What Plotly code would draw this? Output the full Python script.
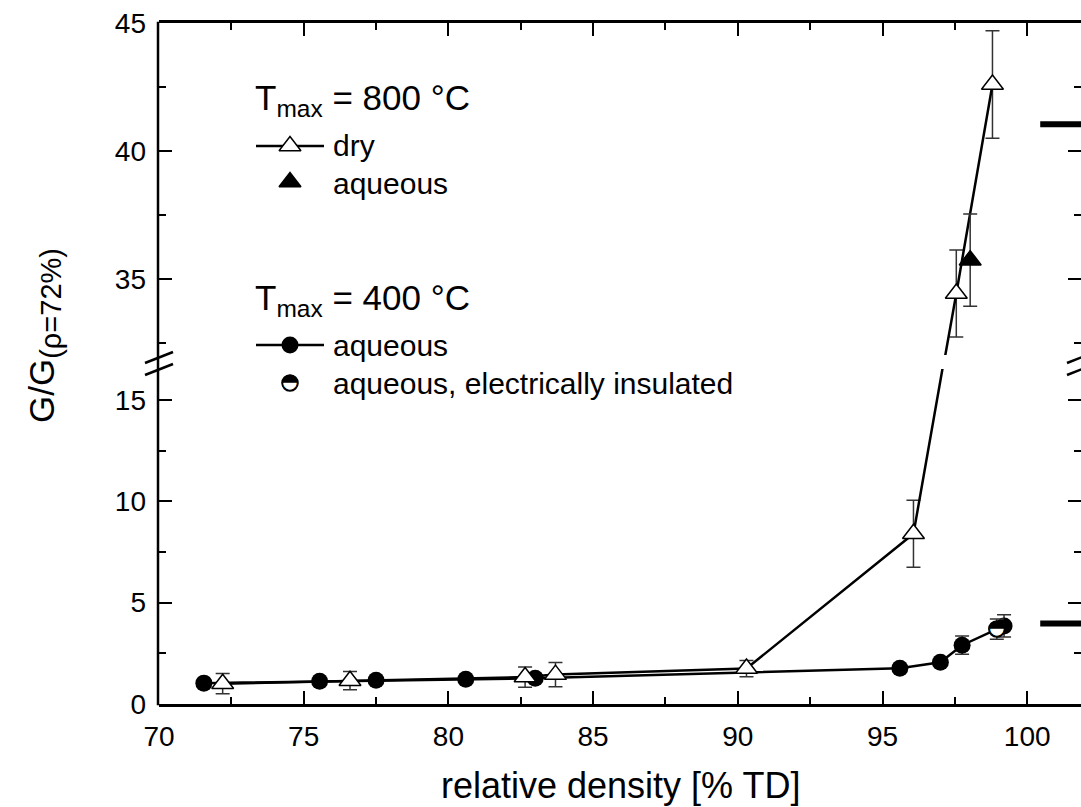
import plotly.graph_objects as go

# ---------------- data ----------------
dry_x = [72.2, 76.6, 82.65, 83.7, 90.3, 96.07, 97.55, 98.8]
dry_y = [1.0, 1.15, 1.33, 1.45, 1.75, 8.4, 34.45, 42.6]
dry_err = [0.5, 0.45, 0.5, 0.6, 0.4, 1.65, 1.7, 2.1]

aq800_x = [98.03]
aq800_y = [35.75]
aq800_err = [1.8]

aq400_x = [71.55, 75.55, 77.5, 80.6, 83.0, 95.6, 97.0, 97.75, 99.2]
aq400_y = [1.03, 1.12, 1.17, 1.22, 1.27, 1.76, 2.06, 2.9, 3.85]
aq400_err = [0, 0, 0, 0, 0, 0, 0, 0.45, 0.55]

ins_x = [98.95]
ins_y = [3.7]
ins_err = [0.5]

ref_x = [100.45, 103]
ref_levels = [41.05, 3.97]

x_ticks = [70, 75, 80, 85, 90, 95, 100]
low_ticks = [0, 5, 10, 15]
up_ticks = [35, 40, 45]

# ---------------- layout geometry ----------------
W, H = 1081, 807
ML, MR, MT, MB = 159, 0, 23, 103
PW, PH = W - ML - MR, H - MT - MB

X_RANGE = [70, 70 + PW / 28.94]
LOW_RANGE = [0, 16.53]
UP_RANGE = [32.05, 45]
LOW_DOM = [0, (MT + PH - 369) / PH]
UP_DOM = [(MT + PH - 355) / PH, 1]

FONT = "Liberation Sans, Arial, sans-serif"
BLACK = "#000000"


def frac(v):
    """paper fraction of a value on the broken y axis"""
    if v <= LOW_RANGE[1]:
        return LOW_DOM[0] + (v - LOW_RANGE[0]) / (LOW_RANGE[1] - LOW_RANGE[0]) * (LOW_DOM[1] - LOW_DOM[0])
    return UP_DOM[0] + (v - UP_RANGE[0]) / (UP_RANGE[1] - UP_RANGE[0]) * (UP_DOM[1] - UP_DOM[0])


def on_axis(vals, rng, dom):
    return [rng[0] + (frac(v) - dom[0]) / (dom[1] - dom[0]) * (rng[1] - rng[0]) for v in vals]


def fx(px):
    return (px - ML) / PW


def fy(py):
    return (MT + PH - py) / PH


fig = go.Figure()

segments = [("x", "y", LOW_RANGE, LOW_DOM), ("x2", "y2", UP_RANGE, UP_DOM)]
ERR = dict(type="data", color="#333333", thickness=1.5, width=7)

for xa, ya, rng, dom in segments:
    # T = 400 C aqueous (filled circles)
    fig.add_trace(go.Scatter(
        x=aq400_x, y=on_axis(aq400_y, rng, dom), xaxis=xa, yaxis=ya,
        mode="lines+markers", showlegend=False,
        line=dict(color=BLACK, width=2.5),
        marker=dict(symbol="circle", size=17, color=BLACK),
        error_y=dict(ERR, array=aq400_err),
    ))
    # T = 800 C dry (open triangles)
    fig.add_trace(go.Scatter(
        x=dry_x, y=on_axis(dry_y, rng, dom), xaxis=xa, yaxis=ya,
        mode="lines+markers", showlegend=False,
        line=dict(color=BLACK, width=2.5),
        marker=dict(symbol="triangle-up", size=19, color="white", line=dict(color=BLACK, width=1.5)),
        error_y=dict(ERR, array=dry_err),
    ))
    # T = 800 C aqueous (filled triangle)
    fig.add_trace(go.Scatter(
        x=aq800_x, y=on_axis(aq800_y, rng, dom), xaxis=xa, yaxis=ya,
        mode="markers", showlegend=False,
        marker=dict(symbol="triangle-up", size=19, color=BLACK, line=dict(color=BLACK, width=1.5)),
        error_y=dict(ERR, array=aq800_err),
    ))
    # aqueous, electrically insulated (half-filled circle)
    fig.add_trace(go.Scatter(
        x=ins_x, y=on_axis(ins_y, rng, dom), xaxis=xa, yaxis=ya,
        mode="markers", showlegend=False,
        marker=dict(symbol="circle", size=16, color="white", line=dict(color=BLACK, width=1.5)),
        error_y=dict(ERR, array=ins_err),
    ))
    fig.add_trace(go.Scatter(
        x=ins_x, y=on_axis(ins_y, rng, dom), xaxis=xa, yaxis=ya,
        mode="text", text=["◓"] * len(ins_x), textposition="middle center",
        textfont=dict(family="DejaVu Sans", size=21, color=BLACK), showlegend=False,
    ))
    # reference levels at the right edge
    for lvl in ref_levels:
        fig.add_trace(go.Scatter(
            x=ref_x, y=on_axis([lvl, lvl], rng, dom), xaxis=xa, yaxis=ya,
            mode="lines", showlegend=False, line=dict(color=BLACK, width=6),
        ))

# ---------------- legend (drawn on an overlay axis spanning the plot area) ----------------
LEG_LINE_X = [fx(256), fx(324)]
LEG_MARK_X = fx(290)
fig.add_trace(go.Scatter(x=LEG_LINE_X, y=[fy(146)] * 2, xaxis="x3", yaxis="y3", mode="lines",
                         line=dict(color=BLACK, width=2.5), showlegend=False))
fig.add_trace(go.Scatter(x=[LEG_MARK_X], y=[fy(146)], xaxis="x3", yaxis="y3", mode="markers",
                         marker=dict(symbol="triangle-up", size=19, color="white", line=dict(color=BLACK, width=1.5)),
                         showlegend=False))
fig.add_trace(go.Scatter(x=[LEG_MARK_X], y=[fy(182)], xaxis="x3", yaxis="y3", mode="markers",
                         marker=dict(symbol="triangle-up", size=19, color=BLACK, line=dict(color=BLACK, width=1.5)),
                         showlegend=False))
fig.add_trace(go.Scatter(x=LEG_LINE_X, y=[fy(345)] * 2, xaxis="x3", yaxis="y3", mode="lines",
                         line=dict(color=BLACK, width=2.5), showlegend=False))
fig.add_trace(go.Scatter(x=[LEG_MARK_X], y=[fy(345)], xaxis="x3", yaxis="y3", mode="markers",
                         marker=dict(symbol="circle", size=17, color=BLACK), showlegend=False))
fig.add_trace(go.Scatter(x=[LEG_MARK_X], y=[fy(383)], xaxis="x3", yaxis="y3", mode="markers",
                         marker=dict(symbol="circle", size=16, color="white", line=dict(color=BLACK, width=1.5)),
                         showlegend=False))
fig.add_trace(go.Scatter(x=[LEG_MARK_X], y=[fy(383)], xaxis="x3", yaxis="y3", mode="text",
                         text=["◓"], textposition="middle center",
                         textfont=dict(family="DejaVu Sans", size=21, color=BLACK), showlegend=False))

annotations = []


def add_text(txt, px, py, size, xanchor="left", angle=0):
    annotations.append(dict(text=txt, x=fx(px), y=fy(py), xref="paper", yref="paper",
                            xanchor=xanchor, yanchor="middle", showarrow=False, textangle=angle,
                            font=dict(family=FONT, size=size, color=BLACK)))


add_text("T<sub>max</sub> = 800 °C", 253, 100, 35)
add_text("dry", 331, 146, 30)
add_text("aqueous", 331, 183, 30)
add_text("T<sub>max</sub> = 400 °C", 253, 300, 35)
add_text("aqueous", 331, 345, 30)
add_text("aqueous, electrically insulated", 331, 383, 30)
# axis titles
add_text("relative density [% TD]", 620, 785, 36, xanchor="center")
add_text("G/G<sub><span style='font-size:29px'>(ρ=72%)</span></sub>", 44, 336, 35,
         xanchor="center", angle=-90)

# ---------------- left axis line and axis break marks ----------------
shapes = [dict(type="line", xref="paper", yref="paper", x0=fx(158), x1=fx(158),
               y0=fy(705.2), y1=fy(21.8), line=dict(color=BLACK, width=2.5))]
for px0, px1 in [(145, 173), (1067, 1095)]:
    for py in (363, 375):
        shapes.append(dict(type="line", xref="paper", yref="paper",
                           x0=fx(px0), y0=fy(py), x1=fx(px1), y1=fy(py - 11),
                           line=dict(color=BLACK, width=2.5)))

tickfont = dict(family=FONT, size=28, color=BLACK)
minor_t = dict(dtick=2.5, tick0=0, ticklen=7, tickwidth=2, ticks="inside", tickcolor=BLACK)

xcommon = dict(showline=True, linecolor=BLACK, linewidth=2.5, ticks="inside", ticklen=13,
               tickwidth=2, tickcolor=BLACK, showgrid=False, zeroline=False, tickfont=tickfont,
               range=X_RANGE, tickvals=x_ticks, domain=[0, 1], minor=minor_t)
ycommon = dict(showline=False, ticks="inside", ticklen=13, tickwidth=2, tickcolor=BLACK,
               showgrid=False, zeroline=False, tickfont=tickfont, mirror="ticks",
               minor=minor_t, ticklabelstandoff=12)

fig.update_layout(
    width=W, height=H,
    margin=dict(l=ML, r=MR, t=MT, b=MB, pad=0),
    paper_bgcolor="white", plot_bgcolor="rgba(0,0,0,0)",
    showlegend=False,
    xaxis=dict(**xcommon, anchor="y", ticklabelstandoff=6),
    xaxis2=dict(**xcommon, anchor="y2", side="top", showticklabels=False, matches="x"),
    yaxis=dict(**ycommon, range=LOW_RANGE, tickvals=low_ticks, domain=LOW_DOM, anchor="x"),
    yaxis2=dict(**ycommon, range=UP_RANGE, tickvals=up_ticks, domain=UP_DOM, anchor="x2"),
    xaxis3=dict(range=[0, 1], domain=[0, 1], visible=False, fixedrange=True, anchor="y3"),
    yaxis3=dict(range=[0, 1], domain=[0, 1], visible=False, fixedrange=True, anchor="x3"),
    annotations=annotations,
    shapes=shapes,
    font=dict(family=FONT, color=BLACK),
)

fig.write_html("out.html")
